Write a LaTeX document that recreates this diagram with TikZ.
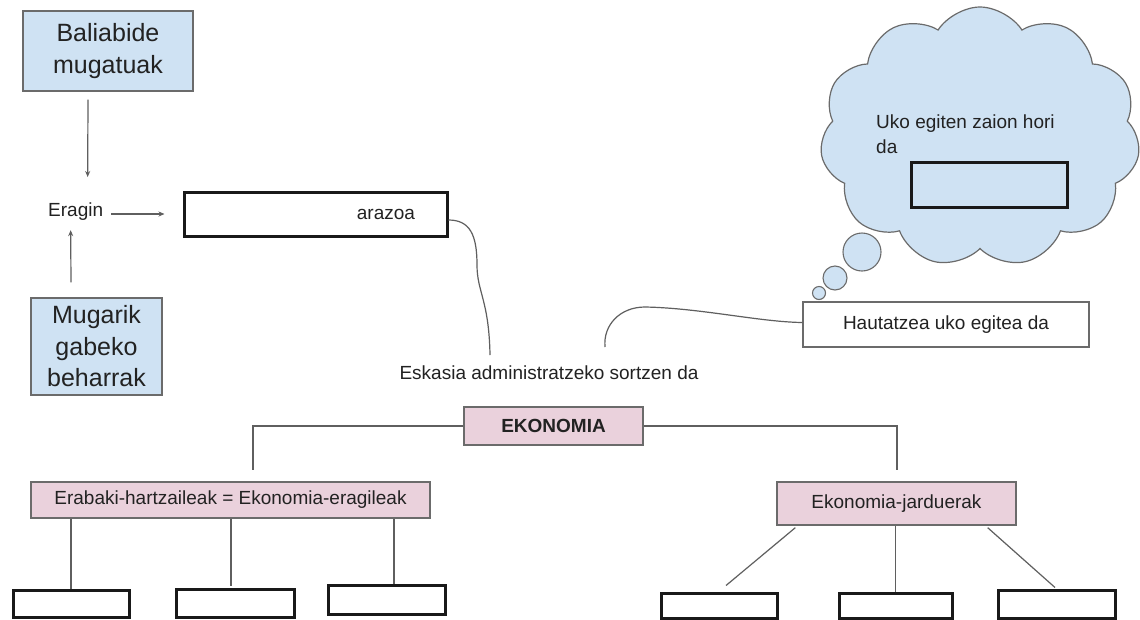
\documentclass[tikz,border=0pt]{standalone}
\usepackage{fontspec}
\setmainfont{Liberation Sans}
\usetikzlibrary{arrows.meta,shapes.symbols,calc}
\definecolor{bluefill}{HTML}{CFE2F3}
\definecolor{pinkfill}{HTML}{EAD1DC}
\definecolor{edgegray}{HTML}{6B6B6B}
\definecolor{linegray}{HTML}{5F5F5F}
\definecolor{txtc}{HTML}{222222}
\tikzset{
  base/.style={inner sep=0pt, text=txtc, font=\fontsize{19}{23}\selectfont},
  txt/.style={base},
  bluebox/.style={base, draw=edgegray, line width=1.3pt, fill=bluefill, align=center, font=\fontsize{25}{31.5}\selectfont},
  pinkbox/.style={base, draw=edgegray, line width=1.3pt, fill=pinkfill},
  plainbox/.style={base, draw=edgegray, line width=1.3pt, fill=white},
  blankbox/.style={base, draw=black!90, line width=3pt, fill=white},
  conn/.style={draw=linegray, line width=1.2pt},
  arr/.style={conn, -{Stealth[length=6pt,width=5pt]}},
  bubble/.style={draw=edgegray, line width=1.1pt, fill=bluefill, circle, inner sep=0pt}
}
\begin{document}
\begin{tikzpicture}[x=1pt,y=-1pt]
\useasboundingbox (0,0) rectangle (1140,619);
\clip (0,0) rectangle (1140,619);
\fill[white] (0,0) rectangle (1140,619);

% left top
\node[bluebox, minimum width=170pt, minimum height=80pt] (bal) at (108,51) {Baliabide\\mugatuak};
\node[bluebox, minimum width=131pt, minimum height=97pt] (mug) at (96.5,346.5) {Mugarik\\gabeko\\beharrak};
\node[txt, anchor=base west] (eragin) at (48,216) {Eragin};
\node[blankbox, minimum width=263pt, minimum height=44pt, text width=199pt, align=right] (arazoa) at (315.5,214) {arazoa};

\draw[arr] ($(bal.south)+(-20,8)$) -- ($(eragin.north)+(12,-25)$);
\draw[arr] ($(mug.north)+(-25.5,-15)$) -- ($(eragin.south)+(-5,10)$);
\draw[arr] ($(eragin.east |- arazoa.west)+(8,0)$) -- ($(arazoa.west)+(-18,0)$);

% cloud
\node[cloud, cloud puffs=11, cloud puff arc=115, aspect=1.25, draw=edgegray, line width=1.2pt, fill=bluefill, minimum width=320pt, minimum height=260pt, inner sep=0pt] (cloud) at (980,137) {};
\node[txt, align=left, anchor=west, font=\fontsize{19}{25}\selectfont] (uko) at (876,134.5) {Uko egiten zaion hori\\da};
\node[blankbox, fill=bluefill, minimum width=156pt, minimum height=45pt] (inner) at (989,184.5) {};
\node[bubble, minimum size=38pt] (bub1) at (862,252) {};
\node[bubble, minimum size=24pt] (bub2) at (835,278) {};
\node[bubble, minimum size=13pt] (bub3) at (819,293) {};

% middle
\node[plainbox, minimum width=286pt, minimum height=45pt] (haut) at (946,324.5) {Hautatzea uko egitea da};
\node[txt] (eskasia) at (549,373) {Eskasia administratzeko sortzen da};
\coordinate (e1) at (490,355);
\coordinate (e2) at (605,347);
\draw[conn] ($(arazoa.east)+(0,6)$) .. controls (470,220) and (477,235) .. (477,265)
  .. controls (477,292) and (489,300) .. (e1);
\draw[conn] ($(haut.west)+(0,-2)$) .. controls (760,322) and (700,308) .. (645,307)
  .. controls (620,307) and (603,325) .. (e2);

% hierarchy
\node[pinkbox, minimum width=179pt, minimum height=38pt, font=\fontsize{19}{23}\selectfont\bfseries] (ekon) at (553.5,426) {EKONOMIA};
\node[pinkbox, minimum width=399pt, minimum height=36pt] (erab) at (230.5,500) {Erabaki-hartzaileak = Ekonomia-eragileak};
\node[pinkbox, minimum width=239pt, minimum height=43pt] (jard) at (896.5,503.5) {Ekonomia-jarduerak};
\coordinate (c1) at (253,470);
\coordinate (c2) at (897,470);
\draw[conn] (ekon.west) -| (c1);
\draw[conn] (ekon.east) -| (c2);

\node[blankbox, minimum width=116pt, minimum height=27pt] (b1) at (71,603.5) {};
\node[blankbox, minimum width=118pt, minimum height=28pt] (b2) at (235,603) {};
\node[blankbox, minimum width=117pt, minimum height=29pt] (b3) at (386.5,599.5) {};
\node[blankbox, minimum width=116pt, minimum height=25pt] (bA) at (719,605.5) {};
\node[blankbox, minimum width=113pt, minimum height=25pt] (bB) at (895.5,605.5) {};
\node[blankbox, minimum width=117pt, minimum height=28pt] (bC) at (1057,604) {};

\draw[conn] (erab.south -| b1.north) -- (b1.north);
\draw[conn] ($(erab.south -| b2.north)+(-4,0)$) -- ($(b2.north)+(-4,-2)$);
\draw[conn] ($(erab.south -| b3.north)+(7.5,0)$) -- ($(b3.north)+(7.5,0)$);
\draw[conn] ($(jard.south west)+(19,2)$) -- ($(bA.north)+(7,-6)$);
\draw[conn] (jard.south -| bB.north) -- (bB.north);
\draw[conn] ($(jard.south east)+(-29,2)$) -- ($(bC.north)+(-2,-1)$);
\end{tikzpicture}
\end{document}
